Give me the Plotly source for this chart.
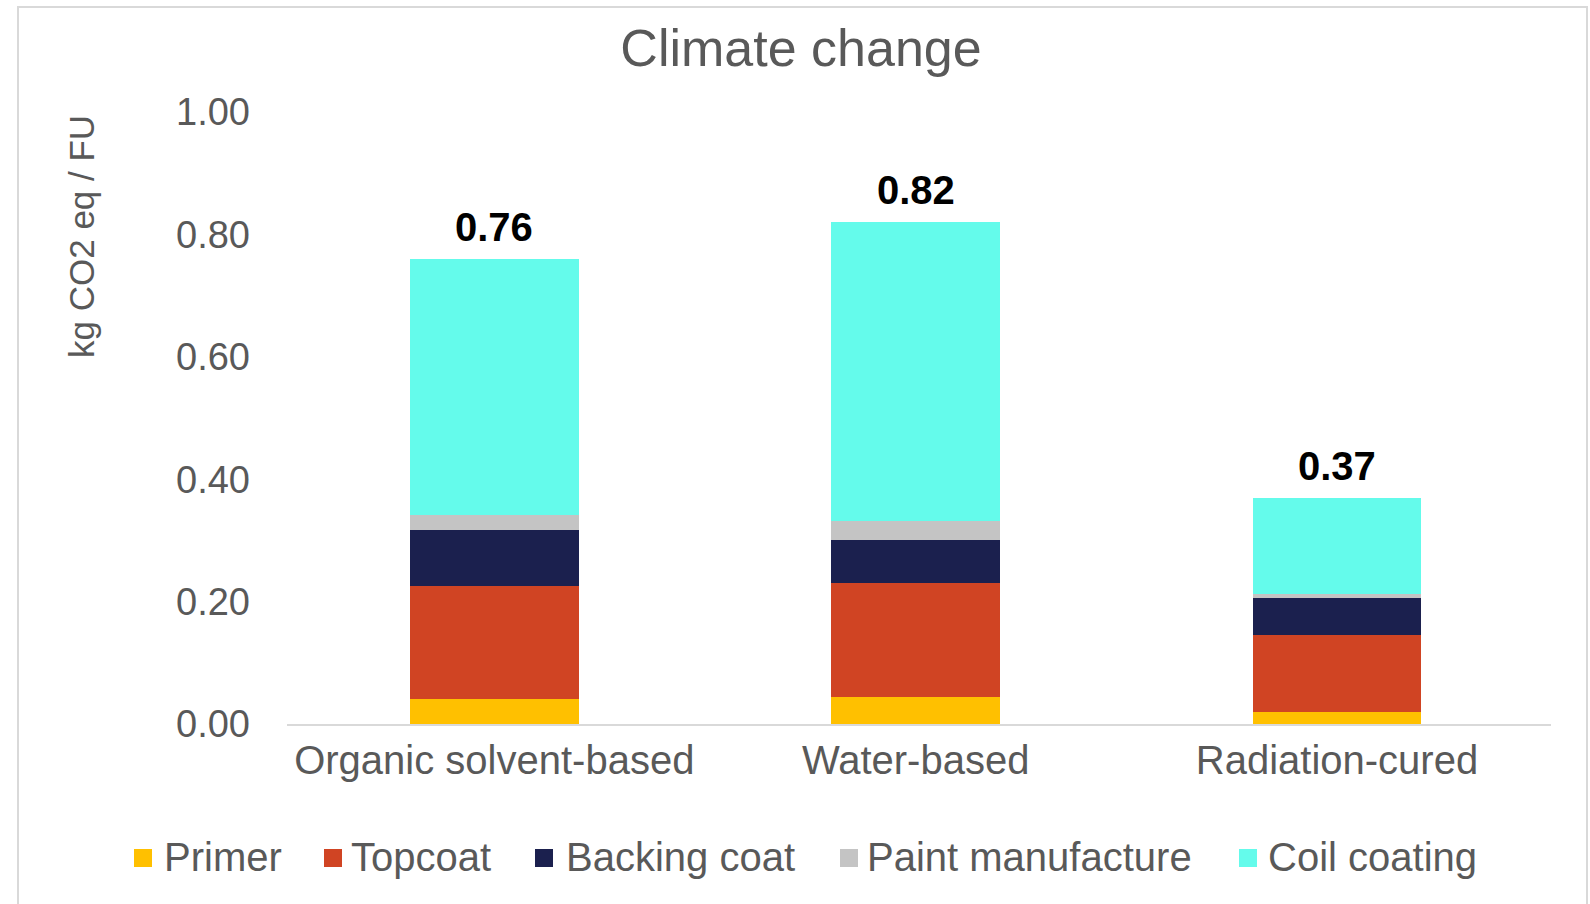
import plotly.graph_objects as go

categories = ["Organic solvent-based", "Water-based", "Radiation-cured"]
primer = [0.041, 0.044, 0.020]
topcoat = [0.185, 0.187, 0.126]
backing_coat = [0.091, 0.070, 0.060]
paint_manufacture = [0.025, 0.031, 0.007]
coil_coating = [0.418, 0.488, 0.157]
y_ticks = [0.0, 0.2, 0.4, 0.6, 0.8, 1.0]

series_names = ["Primer", "Topcoat", "Backing coat", "Paint manufacture", "Coil coating"]
series_values = [primer, topcoat, backing_coat, paint_manufacture, coil_coating]
series_colors = ["#FFC000", "#D04423", "#1B204E", "#C4C4C4", "#64FBEB"]

W, H = 1590, 904
L, R, T, B = 287, 39, 112, 180
pw, ph = W - L - R, H - T - B

def px(x):
    return (x - L) / pw

def py(y):
    return (H - B - y) / ph

FONT = "Liberation Sans, Arial, sans-serif"
GREY = "#595959"

fig = go.Figure()
for name, vals, col in zip(series_names, series_values, series_colors):
    fig.add_trace(go.Bar(
        name=name, x=categories, y=vals,
        marker=dict(color=col, line=dict(width=0)),
        width=0.4, showlegend=False,
    ))

totals = [sum(v) for v in zip(*series_values)]
annotations = []
for c, t in zip(categories, totals):
    annotations.append(dict(
        x=c, y=t, xref="x", yref="y", text=f"<b>{t:.2f}</b>",
        showarrow=False, yanchor="middle", yshift=32,
        font=dict(family=FONT, size=40, color="#000000"),
    ))
annotations.append(dict(
    x=px(81), y=py(237), xref="paper", yref="paper",
    text="kg CO2 eq / FU", textangle=-90, showarrow=False,
    xanchor="center", yanchor="middle",
    font=dict(family=FONT, size=35, color=GREY),
))

# legend (layout positions in pixels)
legend_marker_x = [134, 324, 535, 840, 1239]
legend_text_x = [162, 349, 564, 865, 1266]
shapes = [dict(type="rect", xref="paper", yref="paper",
               x0=px(18), x1=px(1587), y0=py(7), y1=py(910),
               line=dict(color="#D9D9D9", width=2), fillcolor="rgba(0,0,0,0)",
               layer="below")]
for name, col, mx, tx in zip(series_names, series_colors, legend_marker_x, legend_text_x):
    shapes.append(dict(type="rect", xref="paper", yref="paper",
                       x0=px(mx), x1=px(mx + 18), y0=py(867), y1=py(849),
                       line=dict(width=0), fillcolor=col))
    annotations.append(dict(
        x=px(tx), y=py(857), xref="paper", yref="paper", text=name,
        showarrow=False, xanchor="left", yanchor="middle",
        font=dict(family=FONT, size=40, color=GREY),
    ))

fig.update_layout(
    width=W, height=H,
    margin=dict(l=L, r=R, t=T, b=B),
    paper_bgcolor="white", plot_bgcolor="white",
    barmode="stack",
    title=dict(text="Climate change", x=801 / W, xref="container",
               y=1 - 48 / H, yref="container", xanchor="center", yanchor="middle",
               font=dict(family=FONT, size=52, color=GREY)),
    xaxis=dict(showgrid=False, showline=True, linecolor="#D9D9D9", linewidth=2,
               range=[-0.492, 2.508],
               ticks="", tickfont=dict(family=FONT, size=40, color=GREY),
               ticklabelstandoff=0),
    yaxis=dict(range=[0, 1.0], tickvals=y_ticks, tickformat=".2f",
               showgrid=False, showline=False, zeroline=False, ticks="",
               tickfont=dict(family=FONT, size=38, color=GREY),
               ticklabelstandoff=36),
    annotations=annotations,
    shapes=shapes,
    showlegend=False,
)

fig.write_html("out.html")
